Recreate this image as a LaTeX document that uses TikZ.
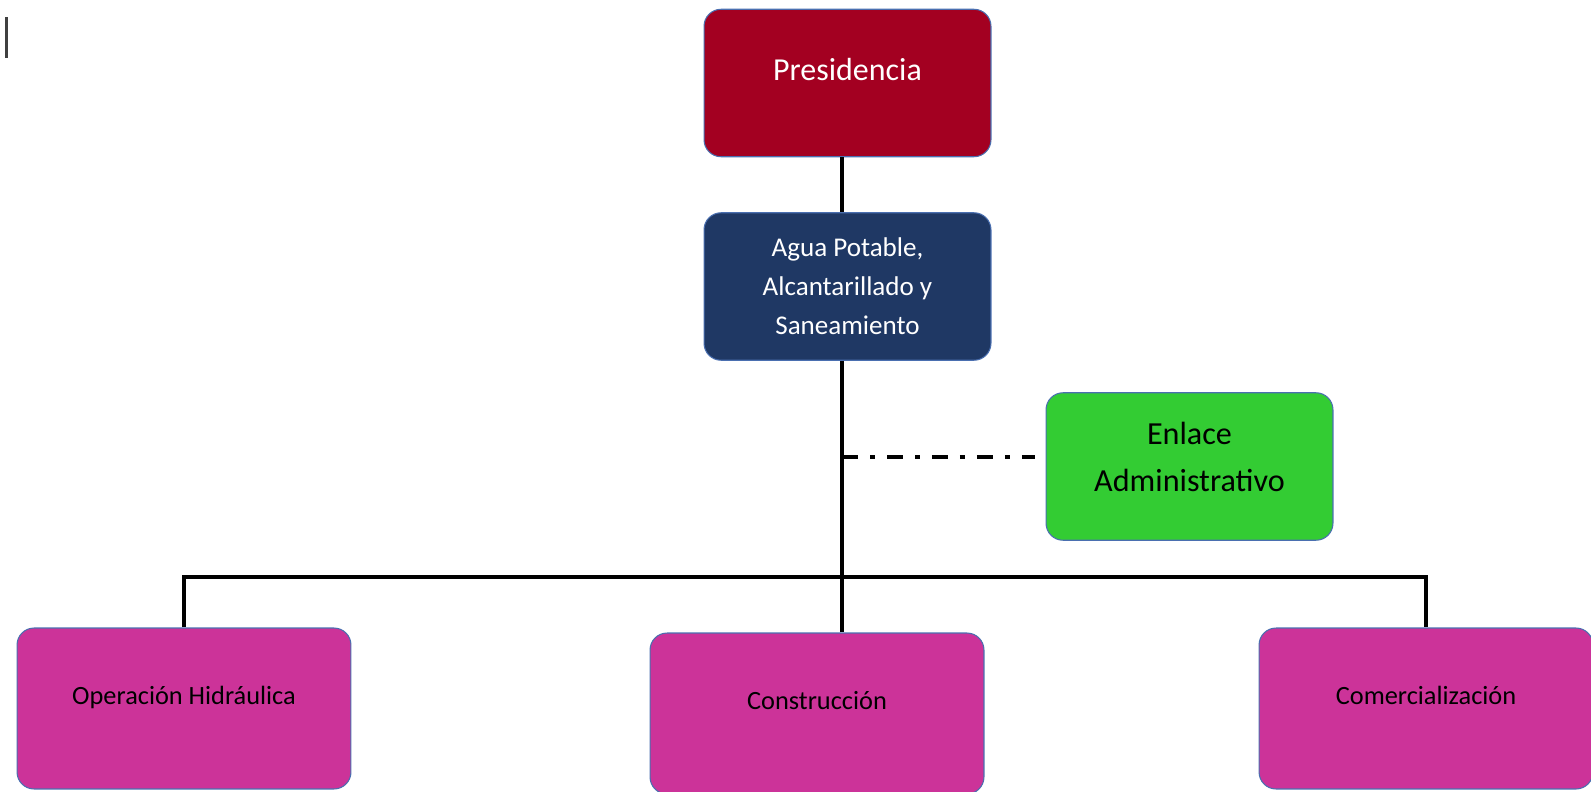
\documentclass[tikz,border=0pt]{standalone}
\usepackage{fontspec}
\setmainfont{Carlito}
\definecolor{presred}{HTML}{A30021}
\definecolor{aguablue}{HTML}{1F3864}
\definecolor{enlgreen}{HTML}{33CC33}
\definecolor{depmag}{HTML}{CC3399}
\definecolor{rimblue}{HTML}{4A6FB0}
\begin{document}
\begin{tikzpicture}[x=0.02cm,y=-0.02cm,
   box/.style={draw=rimblue,line width=0.6pt,rounded corners=0.34cm,align=center,inner sep=0pt},
   headbox/.style={box,minimum width=5.74cm,minimum height=2.95cm,text=white},
   deptbox/.style={box,fill=depmag,minimum width=6.68cm,minimum height=3.22cm,
      font=\fontsize{15}{18}\selectfont,text height=9.5pt,text depth=14.5pt},
   link/.style={line width=2pt}]
   \clip (0,0) rectangle (1591,791);
   \node[headbox,fill=presred,font=\fontsize{18.2}{22}\selectfont,text height=11.5pt,text depth=14pt] (pres) at (847.5,83) {Presidencia};
   \node[headbox,fill=aguablue,font=\fontsize{15.4}{22.2}\selectfont] (agua) at (847.5,286.5) {Agua Potable,\\Alcantarillado y\\Saneamiento};
   \node[headbox,fill=enlgreen,text=black,font=\fontsize{18.3}{26.7}\selectfont,text depth=10.5pt] (enlace) at (1189.5,466.5) {Enlace\\Administrativo};
   \node[deptbox] (oper) at (184,708.5) {Operación Hidráulica};
   \node[deptbox] (cons) at (817,713.5) {Construcción};
   \node[deptbox] (come) at (1426,708.5) {Comercialización};
   \coordinate (trunk) at (842,0);
   \coordinate (bus) at (0,577);
   \coordinate (enltap) at (1035,457);
   \draw[link] (pres.south -| trunk) -- (agua.north -| trunk);
   \draw[link] (agua.south -| trunk) -- (bus -| trunk);
   \draw[link,dash pattern=on 0.32cm off 0.24cm on 0.1cm off 0.24cm] (enltap -| trunk) -- (enltap);
   \draw[link] (oper.north) -- (oper.north |- bus) -- (come.north |- bus) -- (come.north);
   \draw[link] (cons.north -| trunk) -- (bus -| trunk);
   \draw[black!75,line width=1.7pt] (6.5,17) -- (6.5,58);
\end{tikzpicture}
\end{document}
